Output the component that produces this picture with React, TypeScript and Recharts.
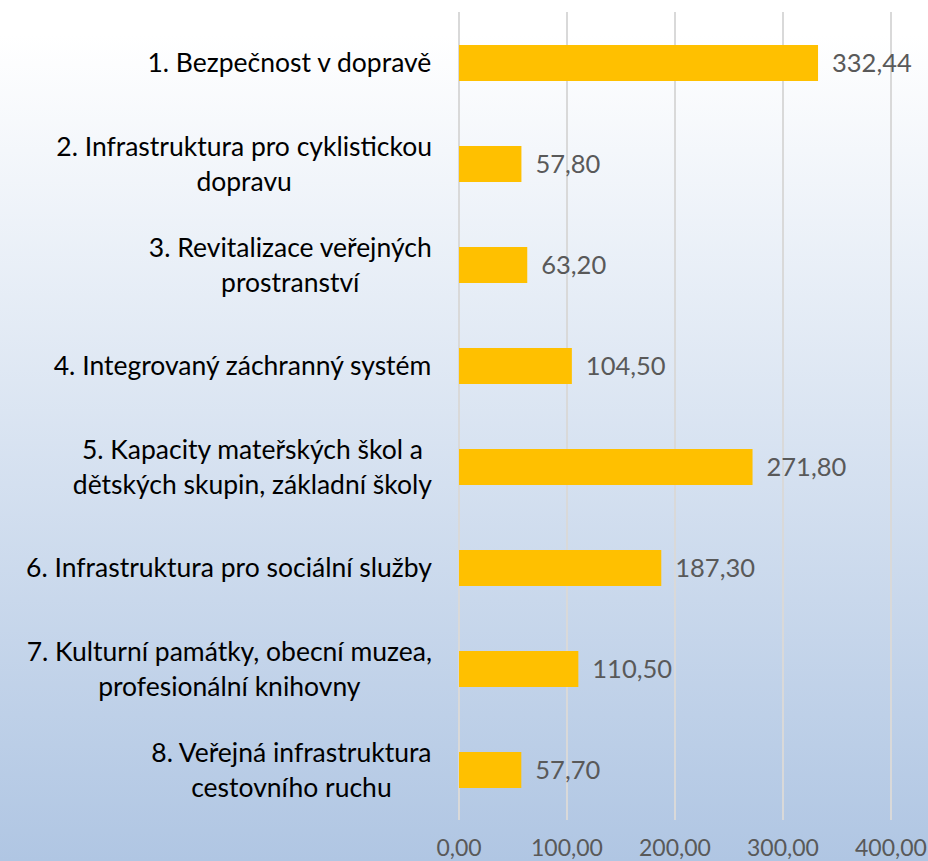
import { BarChart, Bar, XAxis, YAxis, CartesianGrid, LabelList } from 'recharts';

const categories = [
  '1. Bezpečnost v dopravě',
  '2. Infrastruktura pro cyklistickou\ndopravu',
  '3. Revitalizace veřejných\nprostranství',
  '4. Integrovaný záchranný systém',
  '5. Kapacity mateřských škol a\ndětských skupin, základní školy',
  '6. Infrastruktura pro sociální služby',
  '7. Kulturní památky, obecní muzea,\nprofesionální knihovny',
  '8. Veřejná infrastruktura\ncestovního ruchu',
];

const values = [332.44, 57.8, 63.2, 104.5, 271.8, 187.3, 110.5, 57.7];

const xTicks = [0, 100, 200, 300, 400];

const data = categories.map((name, i) => ({ name, value: values[i] }));

const FONT = 'Lato, "Noto Sans", sans-serif';
const LABEL_SIZE = 26.5;

const fmt = (v: number) => v.toFixed(2).replace('.', ',');

let ctx: CanvasRenderingContext2D | null = null;
function textWidth(s: string) {
  if (!ctx) ctx = document.createElement('canvas').getContext('2d');
  if (!ctx) return s.length * 12;
  ctx.font = `${LABEL_SIZE}px Lato`;
  return ctx.measureText(s).width;
}

// multi-line label, lines centred within a right-aligned block
function CategoryTick(props: any) {
  const { x, y, payload } = props;
  const lines: string[] = String(payload.value).split('\n');
  const w = Math.max(...lines.map(textWidth));
  const cx = x - w / 2;
  const lh = 35;
  const startY = y - ((lines.length - 1) * lh) / 2;
  return (
    <g>
      {lines.map((l, i) => (
        <text
          key={i}
          x={cx}
          y={startY + i * lh}
          dy="0.36em"
          textAnchor="middle"
          fill="#000"
          fontSize={LABEL_SIZE}
          fontFamily={FONT}
        >
          {l}
        </text>
      ))}
    </g>
  );
}

export default function App() {
  return (
    <div
      style={{
        position: 'absolute',
        top: 0,
        left: 0,
        width: 928,
        height: 861,
        background: 'linear-gradient(to bottom, #ffffff 0%, #ffffff 4%, #b0c6e3 100%)',
      }}
    >
      <BarChart
        layout="vertical"
        width={928}
        height={861}
        data={data}
        margin={{ top: 12, right: 37, bottom: 0, left: 0 }}
        barCategoryGap={0}
      >
        <CartesianGrid horizontal={false} stroke="#d9d9d9" strokeWidth={2} />
        <XAxis
          type="number"
          domain={[0, 400]}
          ticks={xTicks}
          tickFormatter={fmt}
          axisLine={false}
          tickLine={false}
          tickSize={0}
          tickMargin={20}
          height={41}
          tick={{ fill: '#595959', fontSize: 23, fontFamily: FONT }}
          interval={0}
        />
        <YAxis
          type="category"
          dataKey="name"
          width={459}
          axisLine={false}
          tickLine={false}
          tickSize={0}
          tickMargin={27}
          tick={<CategoryTick />}
          interval={0}
        />
        <Bar dataKey="value" fill="#ffc000" barSize={36} isAnimationActive={false}>
          <LabelList
            dataKey="value"
            position="right"
            offset={14}
            formatter={(v: any) => fmt(Number(v))}
            fill="#595959"
            fontSize={25.5}
            fontFamily={FONT}
          />
        </Bar>
      </BarChart>
    </div>
  );
}
